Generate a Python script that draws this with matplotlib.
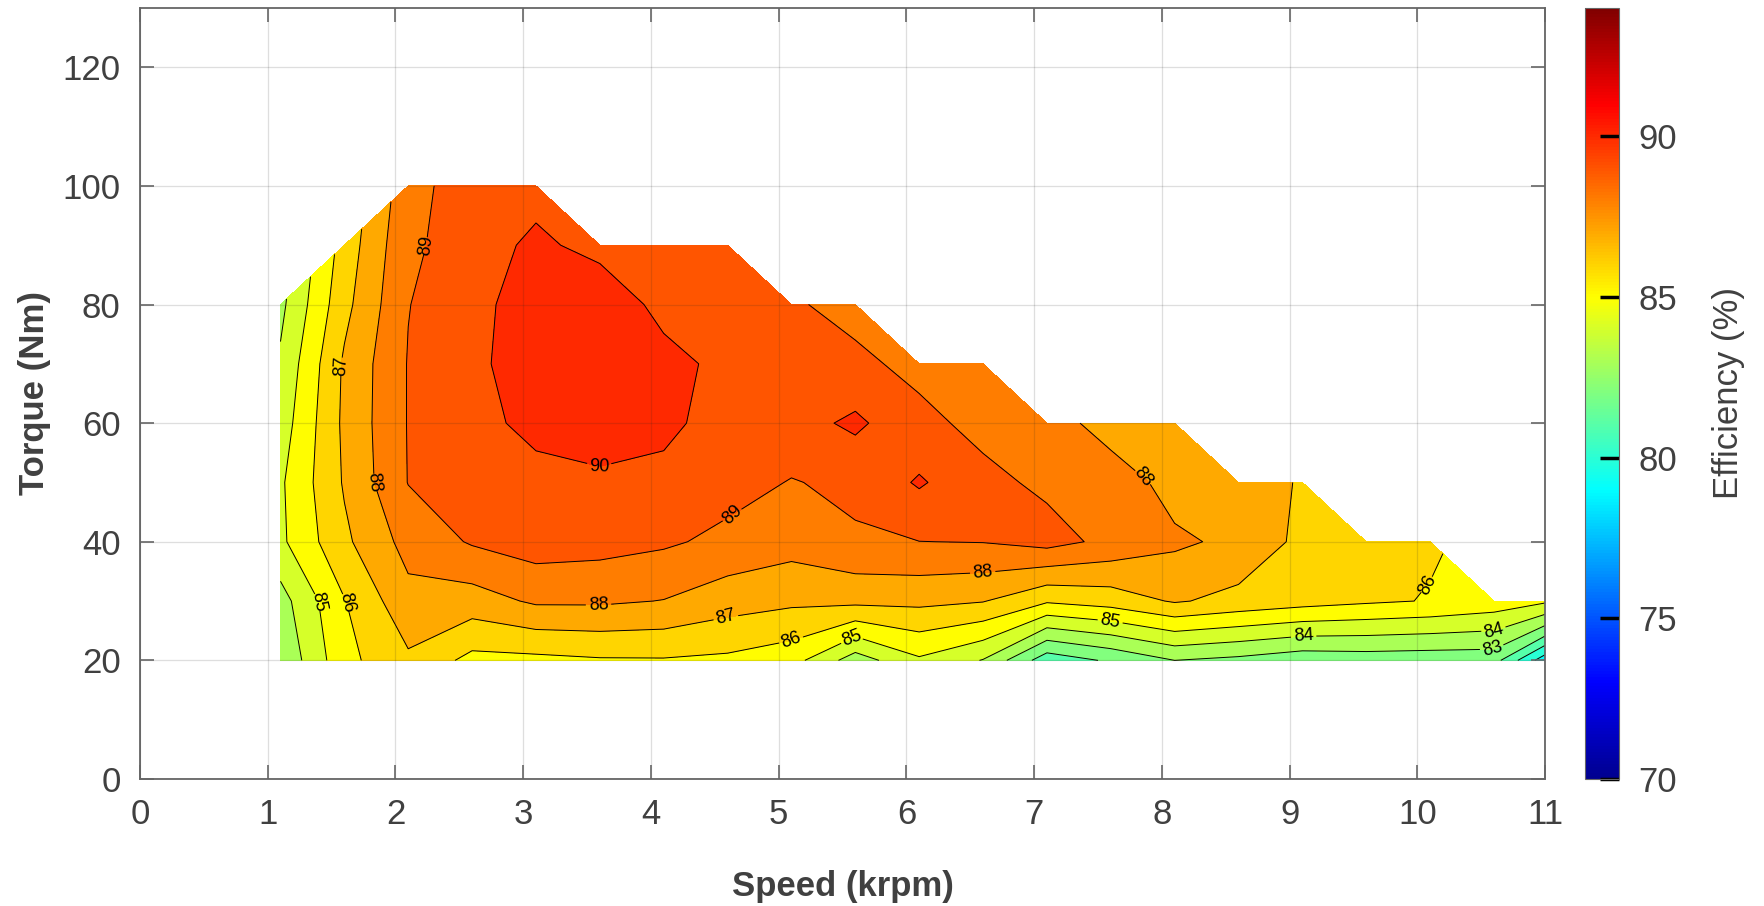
"""Motor efficiency map: speed vs torque, filled contours"""

import numpy as np
import matplotlib
matplotlib.use('Agg')
import matplotlib.pyplot as plt
from matplotlib.colors import LinearSegmentedColormap, Normalize
from matplotlib.cm import ScalarMappable

nan = np.nan

# measurement grid
speed = [1.1, 1.6, 2.1, 2.6, 3.1, 3.6, 4.1, 4.6, 5.1, 5.6, 6.1,
         6.6, 7.1, 7.6, 8.1, 8.6, 9.1, 9.6, 10.1, 10.6, 11.1]
torque = [20, 30, 40, 50, 60, 70, 80, 90, 100]

# efficiency (%) per torque row, one value per speed point
eff_20 = [83.15, 85.7, 86.83, 85.7, 85.75, 85.9, 85.92, 85.8, 85.4, 83.5, 84.85,
          83.95, 81.4, 82.15, 83.0, 82.75, 82.35, 82.45, 82.4, 82.4, 78.65]
eff_30 = [83.6, 85.95, 87.7, 87.55, 88.15, 88.15, 87.97, 87.45, 87.2, 87.25, 87.25,
          87.05, 86.13, 86.45, 87.1, 86.7, 86.4, 86.15, 85.95, 85.6, 84.98]
eff_40 = [84.8, 86.8, 88.35, 89.1, 89.5, 89.38, 89.15, 88.75, 88.4, 88.88, 88.99,
          89.03, 89.35, 88.75, 88.18, 87.77, 86.74, 86.6, 86.1, nan, nan]
eff_50 = [84.85, 87.1, 89.03, 89.6, 89.6, 89.78, 89.77, 89.375, 88.95, 89.21, 90.12,
          89.25, 88.81, 88.6, 87.6, 87.45, 86.92, nan, nan, nan, nan]
eff_60 = [84.48, 87.2, 89.05, 89.6, 90.35, 90.6, 90.2, 89.64, 89.6, 90.2, 89.25,
          88.74, 88.54, 87.5, 87.3, nan, nan, nan, nan, nan, nan]
eff_70 = [84.15, 87.15, 89.05, 89.8, 90.47, 90.8, 90.4, 89.67, 89.5, 89.2, 88.75,
          88.5, nan, nan, nan, nan, nan, nan, nan, nan, nan]
eff_80 = [83.75, 86.7, 88.97, 89.7, 90.5, 90.85, 89.62, 89.6, 89.11, 88.7, nan,
          nan, nan, nan, nan, nan, nan, nan, nan, nan, nan]
eff_90 = [nan, 86.41, 88.82, 89.46, 90.24, 89.62, 89.5, 89.4, nan, nan, nan,
          nan, nan, nan, nan, nan, nan, nan, nan, nan, nan]
eff_100 = [nan, nan, 88.59, 89.6, 89.6, nan, nan, nan, nan, nan, nan,
           nan, nan, nan, nan, nan, nan, nan, nan, nan, nan]

levels = list(range(78, 92))
cbar_ticks = [70, 75, 80, 85, 90]

# where the inline level labels sit
label_pos = [(2.24, 89.9), (1.6, 69.6), (1.8, 50), (1.39, 29.8), (1.62, 29.8),
             (3.59, 52.5), (4.61, 44.9), (3.59, 29.2), (4.6, 26.5), (5.1, 23.3),
             (5.6, 23.1), (6.6, 34.3), (7.78, 50), (7.59, 26), (9.11, 23.9),
             (10.1, 32.6), (10.61, 24.6), (10.59, 21.6)]

TXT = '#404040'


def matlab_jet():
    cdict = {
        'red': [(0, 0, 0), (3 / 8, 0, 0), (5 / 8, 1, 1), (7 / 8, 1, 1), (1, 0.5, 0.5)],
        'green': [(0, 0, 0), (1 / 8, 0, 0), (3 / 8, 1, 1), (5 / 8, 1, 1), (7 / 8, 0, 0), (1, 0, 0)],
        'blue': [(0, 0.5625, 0.5625), (1 / 8, 1, 1), (3 / 8, 1, 1), (5 / 8, 0, 0), (1, 0, 0)],
    }
    return LinearSegmentedColormap('matlab_jet', cdict, 256)


def main():
    plt.rcParams['font.family'] = ['Liberation Sans', 'DejaVu Sans']

    eff = np.ma.masked_invalid(np.array([eff_20, eff_30, eff_40, eff_50, eff_60,
                                         eff_70, eff_80, eff_90, eff_100]))
    cmap = matlab_jet()
    norm = Normalize(70, 94)
    band_colors = [cmap(norm(v)) for v in levels[:-1]]

    fig = plt.figure(figsize=(17.65, 9.06), dpi=100)
    ax = fig.add_axes([0.0793, 0.1402, 0.7961, 0.8510])

    ax.contourf(speed, torque, eff, levels=levels, colors=band_colors,
                corner_mask=True, zorder=1)
    cs = ax.contour(speed, torque, eff, levels=levels, colors='k',
                    linewidths=0.7, corner_mask=True, zorder=2)
    ax.clabel(cs, manual=label_pos, fmt='%d', fontsize=13, inline=True,
              inline_spacing=4)

    ax.set_xlim(0, 11)
    ax.set_ylim(0, 130)
    ax.set_xticks(range(0, 12))
    ax.set_yticks(range(0, 121, 20))
    ax.grid(True, color='0.15', alpha=0.15, linewidth=0.9, zorder=3)
    ax.set_axisbelow(False)
    ax.tick_params(direction='in', length=10, width=1.2, color='#666666',
                   top=True, right=True, labelsize=25, labelcolor=TXT, pad=14)
    for s in ax.spines.values():
        s.set_color('#666666')
        s.set_linewidth(1.3)
    ax.set_xlabel('Speed (krpm)', fontsize=25, fontweight='bold', color=TXT, labelpad=28)
    ax.set_ylabel('Torque (Nm)', fontsize=25, fontweight='bold', color=TXT, labelpad=8)

    cax = fig.add_axes([0.898, 0.1402, 0.0193, 0.8510])
    cb = fig.colorbar(ScalarMappable(norm=norm, cmap=cmap), cax=cax, ticks=cbar_ticks)
    cb.outline.set_edgecolor('#666666')
    cb.outline.set_linewidth(0.8)
    cax.tick_params(direction='in', length=14, width=2.5, color='black',
                    labelsize=25, labelcolor=TXT, pad=14)
    cb.set_label('Efficiency (%)', fontsize=25, color=TXT, labelpad=25)

    fig.savefig('out.png', dpi=100)


if __name__ == "__main__":
    main()
